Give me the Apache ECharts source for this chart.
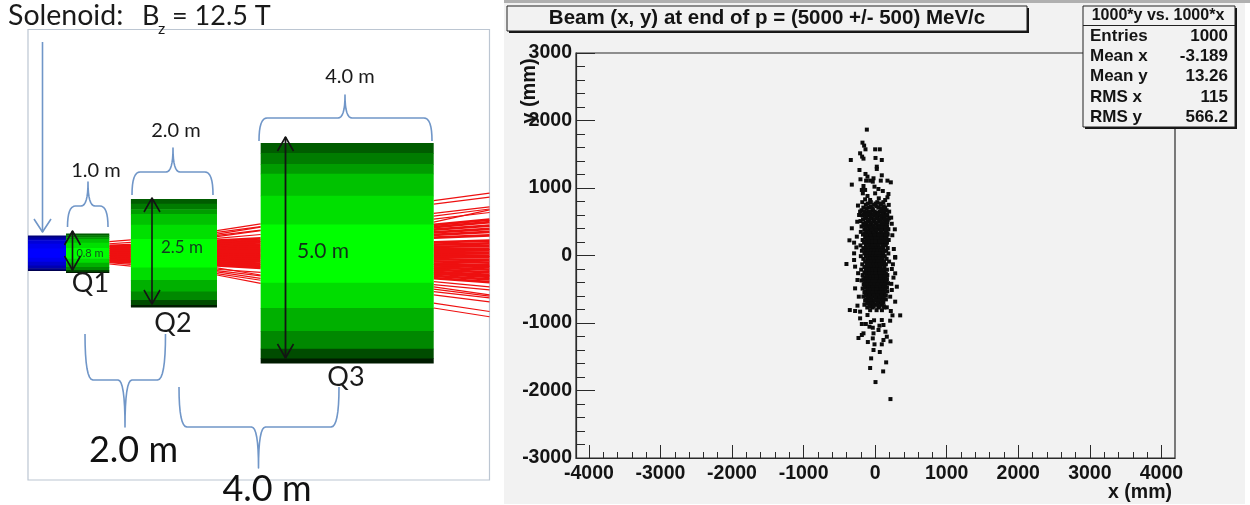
<!DOCTYPE html>
<html>
<head>
<meta charset="utf-8">
<style>html,body{margin:0;padding:0;background:#fff}#c{width:1250px;height:505px}</style>
<script src="https://cdn.jsdelivr.net/npm/echarts@6/dist/echarts.min.js"></script>
</head>
<body>
<div id="c"></div>
<script>
// ---------- right panel data (mm) ----------
const xMajorTicks = [-4000,-3000,-2000,-1000,0,1000,2000,3000,4000];
const xMinorTicks = [-3800,-3600,-3400,-3200,-2800,-2600,-2400,-2200,-1800,-1600,-1400,-1200,-800,-600,-400,-200,200,400,600,800,1200,1400,1600,1800,2200,2400,2600,2800,3200,3400,3600,3800];
const beamOutliers = [
[-116,1865],[-177,1672],[-154,1628],[-135,1573],[0,1573],[65,1573],[-210,1514],[-182,1465],[-163,1435],[-340,1415],[5,1445],[93,1415],
[23,1316],[23,1282],[-219,1267],[-135,1208],[-107,1168],[-205,1129],[-126,1109],[-70,1109],[-23,1144],[-33,1094],[93,1188],[79,1109],
[172,1109],[219,1084],[-326,1050],[-163,1030],[-186,971],[-140,971],[-9,1020],[46,985],[107,956],[186,911],[-172,921],[-107,882],
[0,921],[172,862],[140,822],[-140,832],[-70,822],[51,847],[-210,650],[-224,600],[196,650],[224,561],[-326,403],[275,388],[-359,225],
[-256,279],[-294,190],[261,96],[-294,32],[280,-22],[-401,-126],[-294,-67],[-280,-165],[280,-32],[233,-200],[280,-264],[256,-328],
[303,-462],[-280,-487],[-247,-363],[233,-511],[210,-610],[280,-684],[-354,-808],[-280,-822],[-247,-743],[-210,-832],[350,-887],
[242,-887],[219,-822],[163,-768],[210,-966],[-210,-931],[-107,-882],[-186,-1015],[-130,-1015],[93,-956],[116,-1030],[-79,-1055],
[-33,-1070],[47,-1104],[144,-1129],[-163,-1153],[-186,-1178],[-233,-1222],[-23,-1153],[-33,-1228],[163,-1203],[116,-1252],[214,-1272],
[-102,-1282],[93,-1316],[-9,-1316],[-23,-1400],[65,-1430],[-56,-1524],[154,-1583],[-70,-1667],[112,-1717],[5,-1875],[214,-2127],
[-240,740],[232,470],[-262,120],[248,-130],[-238,-262],[-228,-610],[226,-420],[240,300],[-250,500],[-15,-960],[60,-1040],[-60,-985]
];
// dense body of the beam: [y, x, x, x ...]
const beamRows = [
[790,-180,-60,30,115],
[750,-130,-15,75,190],
[710,-165,-85,45,140],
[670,-190,-30,95,160],
[630,-120,-60,20,130],
[590,-175,-90,-10,65,170],
[550,-140,-45,30,115,195],
[510,-205,-100,-20,55,150],
[470,-165,-125,-60,10,90,135],
[430,-190,-100,-40,30,75,165],
[390,-150,-80,-15,50,120,185],
[350,-200,-125,-60,5,85,150],
[310,-170,-105,-35,30,70,125,175],
[270,-140,-80,-40,15,55,100,160],
[230,-175,-118,-70,-25,25,75,125,190],
[190,-155,-100,-55,-10,40,85,135,165],
[150,-205,-130,-85,-40,5,50,100,150],
[110,-165,-115,-70,-25,20,65,110,175],
[70,-185,-135,-95,-50,-8,35,80,125,155],
[30,-150,-105,-62,-20,25,68,115,185],
[-10,-200,-130,-85,-42,0,45,90,135],
[-50,-165,-112,-70,-25,18,62,105,160],
[-90,-140,-95,-50,-8,38,82,125,195],
[-130,-180,-118,-72,-28,15,60,108,150],
[-170,-150,-100,-55,-10,35,80,130],
[-210,-195,-125,-78,-32,12,58,102,165],
[-250,-150,-100,-55,-12,35,85,130],
[-290,-175,-120,-70,-25,20,65,115,170],
[-330,-140,-92,-48,0,50,100,145],
[-370,-190,-115,-65,-20,30,80,125],
[-410,-150,-95,-40,10,60,110,180],
[-450,-125,-70,-20,35,90,140],
[-490,-175,-100,-48,5,62,120],
[-530,-140,-70,-15,40,100,170],
[-570,-110,-55,10,70,130],
[-610,-165,-85,-25,45,105],
[-650,-125,-55,15,80,150],
[-690,-90,-30,50,115],
[-730,-150,-60,10,85],
[-770,-110,-35,45,130],
[-810,-70,20,95]
];
// second pass over the body, filling it towards the solid look of the core
const beamFill = [
[770,-105,5,80],
[730,-60,20,120],
[690,-120,-35,85,125],
[650,-150,-85,-5,60,110],
[610,-165,-100,-25,45,100,165],
[570,-125,-60,15,85,135],
[530,-170,-80,-10,70,125,175],
[490,-130,-55,20,95,170],
[450,-150,-85,-25,45,110,160],
[410,-130,-65,5,55,100,150],
[370,-115,-45,15,85,150],
[330,-145,-85,-20,50,110,170],
[290,-125,-60,-10,45,90,145],
[250,-100,-50,0,40,95,140],
[210,-135,-85,-40,10,60,110,150],
[-230,-130,-85,-35,10,60,110],
[-270,-125,-75,-35,10,60,110,150],
[-310,-115,-70,-20,25,75,125],
[-350,-165,-115,-70,-25,25,75,125,165],
[-390,-135,-90,-42,5,55,105,150],
[-430,-160,-110,-60,-15,35,85,130],
[-470,-145,-90,-35,15,70,115,165],
[-510,-110,-70,-20,25,85,140],
[-550,-150,-90,-40,15,60,110],
[-590,-130,-75,-25,30,90,150],
[-630,-105,-50,5,65,120],
[-670,-140,-70,-15,40,100],
[-710,-110,-45,30,95],
[-750,-80,-20,60,120]
];
// ---------- left panel data: metres along the beam, metres from the axis ----------
const magnetNames = ['Solenoid','Q1','Q2','Q3'];
const magnetStart = [-0.88,0,1.5,4.5];
const magnetEnd = [0,1,3.49,8.5];
const magnetAperture = [0.8,0.89,2.46,5];
const bandEdges = [0,.045,.095,.14,.24,.37,.635,.75,.855,.935,.98,1];
const greenBands = ['#005c00','#007c00','#009c00','#00c200','#00e000','#00ff00','#00dd00','#00b000','#008800','#004c00','#001c00'];
const blueBands = ['#00007a','#00009a','#0000b8','#0000d8','#0000ee','#0000ff','#0000ee','#0000d0','#0000b0','#000080','#000050'];
// rays in each gap: [y at gap start, y at gap end]
const gap1Span = [1,1.5];
const gap1Stray = [[.26,.30],[.21,.24],[-.25,-.30],[-.22,-.26]];
const gap1Core = [[.16,.18],[.12,.14],[.08,.09],[.04,.05],[0,0],[-.04,-.05],[-.08,-.09],[-.12,-.14],[-.16,-.18],[-.19,-.21]];
const gap2Span = [3.49,4.5];
const gap2Stray = [[.507,.66],[.47,.60],[.43,.59],[.40,.52],[.37,.507],[.33,.42],[-.34,-.5],[-.40,-.52],[-.43,-.575],[-.47,-.62],[-.5,-.69],[-.37,-.44]];
const gap2Core = [[.28,.33],[.24,.28],[.20,.24],[.16,.19],[.12,.14],[.08,.09],[.04,.05],[0,0],[-.04,-.05],[-.08,-.09],[-.12,-.14],[-.16,-.19],[-.20,-.24],[-.24,-.29],[-.28,-.34]];
const gap3Span = [8.5,9.79];
const gap3Stray = [[1.19,1.36],[1.11,1.27],[.90,1.05],[.84,1.0],[.77,.92],[.70,.98],[-.65,-.77],[-.72,-.84],[-.77,-.95],[-.82,-.98],[-.88,-1.02],[-.95,-1.11],[-1.14,-1.33],[-1.25,-1.45]];
const gap3Core = [[.64,.76],[.59,.70],[.53,.62],[.47,.55],[.41,.48],[.35,.40],[.24,.28],[.19,.22],[.14,.16],[.09,.10],[.05,.06],[0,0],[-.05,-.06],[-.09,-.10],[-.14,-.16],[-.19,-.22],[-.24,-.28],[-.28,-.32],[-.33,-.38],[-.38,-.44],[-.43,-.50],[-.47,-.54],[-.52,-.60],[-.57,-.66]];
// stats box
const statLabels = ['Entries','Mean x','Mean y','RMS x','RMS y'];
const statValues = ['1000','-3.189','13.26','115','566.2'];

// ---------- build ----------
const beamData = beamOutliers.slice();
beamRows.concat(beamFill).forEach(r => r.slice(1).forEach(x => beamData.push([x, r[0]])));

const bandData = [], bandColors = [];
magnetNames.forEach((n, m) => {
  const colors = m === 0 ? blueBands : greenBands;
  colors.forEach((c, i) => {
    const h = magnetAperture[m] / 2;
    bandData.push([magnetStart[m], magnetEnd[m], h - 2*h*bandEdges[i], h - 2*h*bandEdges[i+1]]);
    bandColors.push(c);
  });
});
const rayData = [], rayWidth = [];
[[gap1Span,gap1Stray,1.2],[gap2Span,gap2Stray,1.2],[gap3Span,gap3Stray,1.2],
 [gap1Span,gap1Core,2.8],[gap2Span,gap2Core,2.8],[gap3Span,gap3Core,2.8]].forEach(([s, rays, w]) =>
  rays.forEach(r => { rayData.push([s[0], r[0], s[1], r[1]]); rayWidth.push(w); }));

const SANS = '"Liberation Sans", Arial, sans-serif';
const NOTE = 'Lato, "Open Sans", sans-serif';
const INK = '#141414';
const BRACE = '#7096c8';
const elements = [];
const add = e => { elements.push(Object.assign({silent:true, z:50}, e)); };

function txt(x, y, text, size, o) {
  o = o || {};
  add({type:'text', x, y, rotation:o.rot||0, z:o.z||50, style:{text, fill:o.fill||'#1a1a1a',
    font:(o.w||'normal')+' '+size+'px '+(o.f||NOTE), textAlign:o.a||'center', textVerticalAlign:'middle'}});
}
function line(points, color, width) {
  add({type:'polyline', shape:{points}, style:{stroke:color, lineWidth:width, fill:null, lineJoin:'round'}});
}
function curve(p0, c, p1) {
  const pts = [];
  for (let i = 0; i <= 8; i++) {
    const t = i/8, u = 1-t;
    pts.push([u*u*p0[0]+2*u*t*c[0]+t*t*p1[0], u*u*p0[1]+2*u*t*c[1]+t*t*p1[1]]);
  }
  return pts;
}
function brace(xL, xR, yFoot, yLine, xTip, yTip) {
  const r = 8, k = 7;
  const pts = [].concat(
    curve([xL,yFoot],[xL,yLine],[xL+r,yLine]),
    curve([xTip-k,yLine],[xTip,yLine],[xTip,yTip]),
    curve([xTip,yTip],[xTip,yLine],[xTip+k,yLine]),
    curve([xR-r,yLine],[xR,yLine],[xR,yFoot]));
  line(pts, BRACE, 1.6);
}
function dblArrow(x, y1, y2, width) {
  line([[x-8,y1+14],[x,y1],[x+8,y1+14]], INK, 1.6);
  line([[x-8,y2-14],[x,y2],[x+8,y2-14]], INK, 1.6);
  line([[x,y1],[x,y2]], INK, width);
}

// panel chrome
add({type:'rect', z:-1, shape:{x:504,y:0,width:741,height:504}, style:{fill:'#f2f2f2'}});
add({type:'rect', z:-1, shape:{x:504,y:0,width:746,height:3}, style:{fill:'#b0b0b0'}});

// title box
add({type:'rect', z:40, shape:{x:509,y:8,width:520,height:25}, style:{fill:'#151515'}});
add({type:'rect', z:41, shape:{x:507,y:6,width:520,height:25}, style:{fill:'#f2f2f2',stroke:'#222',lineWidth:1}});
txt(767, 18.5, 'Beam (x, y) at end of p = (5000 +/- 500) MeV/c', 20.5, {f:SANS, w:'bold', fill:INK, z:42});

// stats box
add({type:'rect', z:40, shape:{x:1085,y:8,width:152,height:121}, style:{fill:'#151515'}});
add({type:'rect', z:41, shape:{x:1083,y:6,width:152,height:121}, style:{fill:'#f2f2f2',stroke:'#222',lineWidth:1}});
add({type:'line', z:42, shape:{x1:1083,y1:25.5,x2:1235,y2:25.5}, style:{stroke:'#222',lineWidth:1}});
txt(1158, 15.5, '1000*y vs. 1000*x', 16, {f:SANS, w:'bold', fill:INK, z:43});
const statY = [36,56,76,97,117];
statLabels.forEach((l,i) => {
  txt(1090, statY[i], l, 17, {f:SANS, w:'bold', fill:INK, a:'left', z:43});
  txt(1228, statY[i], statValues[i], 17, {f:SANS, w:'bold', fill:INK, a:'right', z:43});
});

// axis names
txt(1172, 492.5, 'x (mm)', 19.5, {f:SANS, w:'bold', fill:INK, a:'right'});
txt(529, 91, 'y (mm)', 20, {f:SANS, w:'bold', fill:INK, rot:Math.PI/2});

// schematic annotations
txt(8, 16, 'Solenoid:', 28.5, {a:'left'});
txt(142, 16, 'B', 27, {a:'left'});
txt(161.5, 29, 'z', 16);
txt(172, 16, '= 12.5 T', 27, {a:'left'});
txt(96, 171, '1.0 m', 20);
txt(176, 131, '2.0 m', 20);
txt(350, 77, '4.0 m', 20);
txt(90, 253, '0.8 m', 11, {fill:'#14501e'});
txt(182, 248, '2.5 m', 17, {fill:'#123a20'});
txt(323, 251, '5.0 m', 21, {fill:'#10301a'});
txt(90.5, 283, 'Q1', 27);
txt(173, 323, 'Q2', 27);
txt(346, 377, 'Q3', 27);
txt(133.5, 450, '2.0 m', 36, {fill:'#111'});
txt(267, 489, '4.0 m', 36, {fill:'#111'});

line([[42.5,42],[42.5,232]], BRACE, 1.6);
line([[34,219],[42.5,232],[51,219]], BRACE, 1.6);
brace(67.5,108,227,206,88,182);
brace(132,213,195,172,173,148);
brace(259,432,141,118,345,95);
brace(85,165.5,334,380,125,427);
brace(179,339,387,427,258.5,468);
dblArrow(72.5,231,270,1.6);
dblArrow(152,198,304,1.6);
dblArrow(285.5,137,358,1.8);

const axisFont = {fontFamily:SANS, fontWeight:'bold', fontSize:19.5, color:INK, formatter:v => String(v)};
const option = {
  animation:false,
  backgroundColor:'#ffffff',
  grid:[
    {left:576, top:53, width:599, height:405, show:true, borderColor:'#2a2a2a', borderWidth:1.2, backgroundColor:'transparent'},
    {left:28, top:29.5, width:461.5, height:450.5, show:true, borderColor:'#bcc6d2', borderWidth:1.2, backgroundColor:'#ffffff'}
  ],
  xAxis:[
    {type:'value', gridIndex:0, min:-4180, max:4190, position:'bottom', splitLine:{show:false},
     axisLine:{show:true, onZero:false, lineStyle:{color:'#2a2a2a',width:1.2}},
     axisTick:{show:true, inside:true, length:13, customValues:xMajorTicks, lineStyle:{color:'#2a2a2a',width:1}},
     axisLabel:{show:true, margin:6, customValues:xMajorTicks, ...axisFont}},
    {type:'value', gridIndex:0, min:-4180, max:4190, position:'bottom', splitLine:{show:false},
     axisLine:{show:false, onZero:false},
     axisTick:{show:true, inside:true, length:6, customValues:xMinorTicks, lineStyle:{color:'#2a2a2a',width:1}},
     axisLabel:{show:false}},
    {type:'value', gridIndex:1, min:-0.879, max:9.79, show:false}
  ],
  yAxis:[
    {type:'value', gridIndex:0, min:-3000, max:3000, interval:1000, position:'left', splitLine:{show:false},
     axisLine:{show:true, onZero:false, lineStyle:{color:'#2a2a2a',width:1.2}},
     axisTick:{show:true, inside:true, length:19, lineStyle:{color:'#2a2a2a',width:1}},
     minorTick:{show:true, splitNumber:5, length:9, lineStyle:{color:'#2a2a2a',width:1}},
     minorSplitLine:{show:false},
     axisLabel:{show:true, margin:4, ...axisFont}},
    {type:'value', gridIndex:1, min:-5.16, max:5.08, show:false}
  ],
  series:[
    {type:'scatter', name:'Beam (x, y)', xAxisIndex:0, yAxisIndex:0, data:beamData, symbol:'rect', symbolSize:4,
     itemStyle:{color:'#0c0c0c', opacity:1}, silent:true, z:5},
    {type:'custom', name:'Rays', xAxisIndex:2, yAxisIndex:1, data:rayData, silent:true, z:3,
     encode:{x:[0,2], y:[1,3]},
     renderItem:(p, api) => {
       const a = api.coord([api.value(0), api.value(1)]), b = api.coord([api.value(2), api.value(3)]);
       return {type:'line', shape:{x1:a[0],y1:a[1],x2:b[0],y2:b[1]}, style:{stroke:'#ee1010', lineWidth:rayWidth[p.dataIndex]}};
     }},
    {type:'custom', name:'Magnets', xAxisIndex:2, yAxisIndex:1, data:bandData, silent:true, z:4,
     encode:{x:[0,1], y:[2,3]},
     renderItem:(p, api) => {
       const a = api.coord([api.value(0), api.value(2)]), b = api.coord([api.value(1), api.value(3)]);
       return {type:'rect', shape:{x:a[0],y:a[1],width:b[0]-a[0],height:b[1]-a[1]+0.5}, style:{fill:bandColors[p.dataIndex]}};
     }}
  ],
  graphic:{elements}
};
const chart = echarts.init(document.getElementById('c'), null, {renderer:'canvas', width:1250, height:505});
chart.setOption(option);
</script>
</body>
</html>
